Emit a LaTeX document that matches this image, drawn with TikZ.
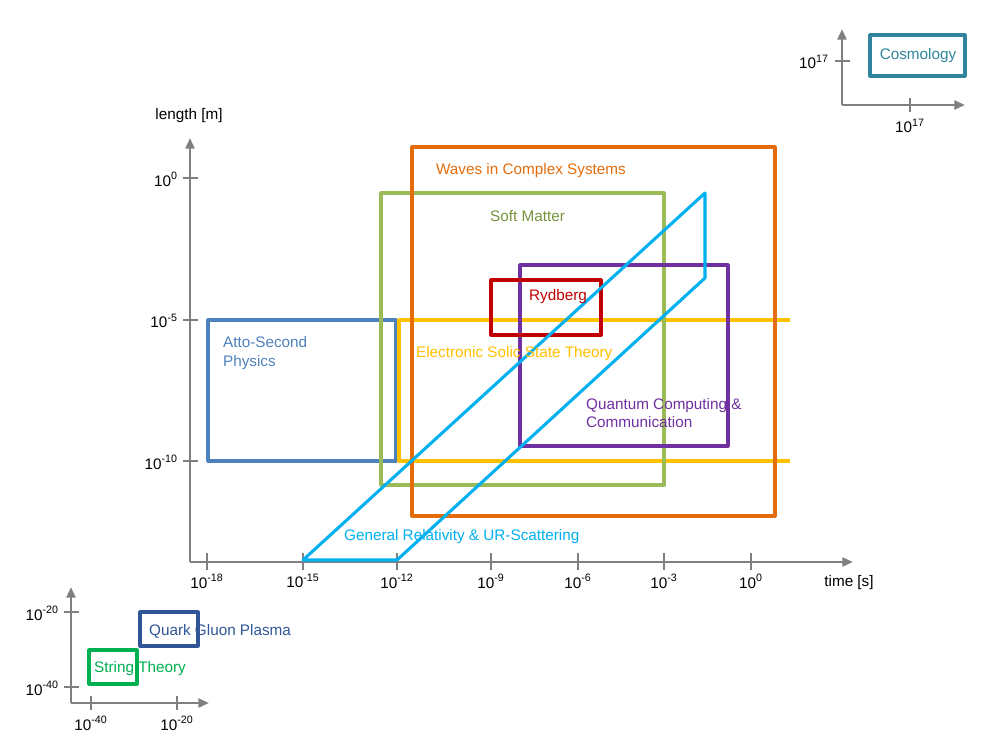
\documentclass[tikz,border=0pt]{standalone}
\usepackage{fontspec}
\setmainfont{Liberation Sans}
\usetikzlibrary{arrows.meta}
\definecolor{axisgray}{HTML}{808080}
\definecolor{attoblue}{HTML}{4F81BD}
\definecolor{solidyellow}{HTML}{FFC000}
\definecolor{softgreen}{HTML}{9BBB59}
\definecolor{softtext}{HTML}{77933C}
\definecolor{waveorange}{HTML}{E46C0A}
\definecolor{rydred}{HTML}{C00000}
\definecolor{quantpurple}{HTML}{7030A0}
\definecolor{grcyan}{HTML}{00B0F0}
\definecolor{cosmoteal}{HTML}{31849B}
\definecolor{quarknavy}{HTML}{2F5597}
\definecolor{stringgreen}{HTML}{00B050}
\begin{document}
\begin{tikzpicture}[x=0.02cm, y=-0.02cm, font=\fontsize{8.7}{10.4}\selectfont, line join=round,
	>={Triangle[length=6pt,width=5pt]},
	axis/.style={axisgray, line width=1.5pt},
	field/.style={line width=1.75pt},
	lbl/.style={inner sep=1pt}]
				\useasboundingbox (0,0) rectangle (1000,750);
				% main axes
				\draw[axis,->] (190,562)--(853,562);
				\draw[axis,->] (190,562)--(190,138);
				\node[lbl] (lenlabel) at (189,116) {length [m]};
				\node[lbl] (timelabel) at (849,583) {time [s]};
				\foreach \x/\e in {207/-18,303/-15,397/-12,491/-9,578/-6,664/-3,751/0} {\draw[axis] (\x,553)--(\x,570); \node[lbl] (tx\x) at (\x,581) {10\textsuperscript{\e}};}
				\foreach \y/\e in {178/0,320/-5,461/-10} {\draw[axis] (183,\y)--(198,\y); \node[lbl, anchor=east] (ty\y) at (180,\y+1) {10\textsuperscript{\e}};}
				% fields
				\draw[field, attoblue] (208,320) rectangle (396,461);
				\draw[field, solidyellow] (790,320)--(399,320)--(399,461)--(790,461);
				\draw[field, softgreen] (381,193) rectangle (664,485);
				\draw[field, waveorange] (412,147) rectangle (775,516);
				\draw[field, quantpurple] (520,265) rectangle (728,446);
				\draw[field, rydred] (491,280) rectangle (601,335);
				\draw[field, grcyan] (303,560)--(705,193)--(705,278)--(397,560)--cycle;
				\node[lbl, attoblue, anchor=west, align=left] (atto) at (221,353) {Atto-Second\\Physics};
				\node[lbl, solidyellow, anchor=west] (solid) at (414,354) {Electronic Solic State Theory};
				\node[lbl, softtext, anchor=west] (soft) at (488,216) {Soft Matter};
				\node[lbl, waveorange, anchor=west] (waves) at (434,171) {Waves in Complex Systems};
				\node[lbl, rydred, anchor=west] (ryd) at (527,297) {Rydberg};
				\node[lbl, quantpurple, anchor=west, align=left] (quant) at (584,413) {Quantum Computing \&\\Communication};
				\node[lbl, grcyan, anchor=west] (gr) at (342,537) {General Relativity \& UR-Scattering};
				% cosmology inset
				\draw[axis,->] (842,105)--(965,105);
				\draw[axis,->] (842,105)--(842,29);
				\draw[axis] (835,61)--(850,61);
				\draw[axis] (910,98)--(910,112);
				\node[lbl, anchor=east] (cy) at (831,62) {10\textsuperscript{17}};
				\node[lbl] (cx) at (910,126) {10\textsuperscript{17}};
				\draw[field, cosmoteal] (870,35) rectangle (965,76);
				\node[lbl, cosmoteal] (cosmo) at (918,56) {Cosmology};
				% small scale inset
				\draw[axis,->] (71,703)--(209,703);
				\draw[axis,->] (71,703)--(71,587);
				\foreach \y/\e in {612/-20,687/-40} {\draw[axis] (64,\y)--(79,\y); \node[lbl, anchor=east] (sy\y) at (61,\y+1) {10\textsuperscript{\e}};}
				\foreach \x/\e in {91/-40,177/-20} {\draw[axis] (\x,696)--(\x,710); \node[lbl] (sx\x) at (\x,723) {10\textsuperscript{\e}};}
				\draw[field, quarknavy] (140,612) rectangle (198,646);
				\draw[field, stringgreen] (89,650) rectangle (137,684);
				\node[lbl, quarknavy, anchor=west] (quark) at (147,631) {Quark Gluon Plasma};
				\node[lbl, stringgreen, anchor=west] (string) at (92,669) {String Theory};
			\end{tikzpicture}
\end{document}
